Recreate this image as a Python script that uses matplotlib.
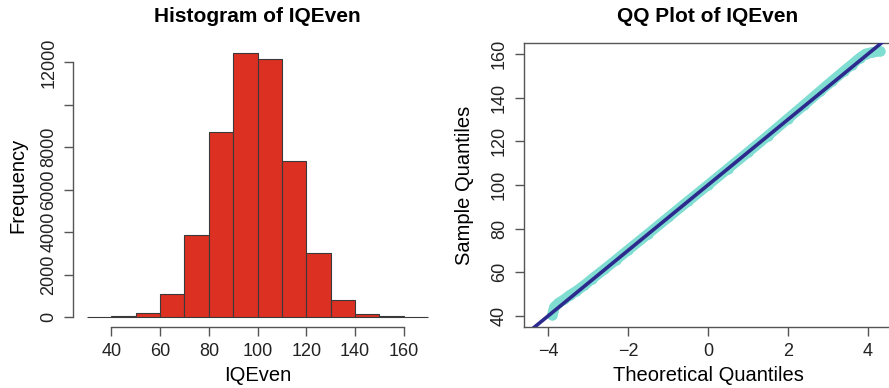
import numpy as np
import matplotlib.pyplot as plt
from matplotlib.ticker import FixedLocator, FixedFormatter

plt.rcParams['font.family'] = ['Liberation Sans', 'DejaVu Sans']

# histogram bins (width 10) and counts
bin_edges = [30, 40, 50, 60, 70, 80, 90, 100, 110, 120, 130, 140, 150, 160, 170]
counts = [8, 30, 207, 1100, 3850, 8715, 12425, 12140, 7360, 3020, 820, 160, 25, 6]

# QQ points: theoretical vs sample quantiles
theo = [-3.90, -3.88, -3.85, -3.75, -3.60, -3.45, -3.30, -3.10, -2.90, -2.60,
        -2.30, -2.00, -1.50, -1.00, -0.50, 0.00, 0.50, 1.00, 1.50, 2.00,
        2.40, 2.80, 3.10, 3.40, 3.60, 3.80, 3.95, 4.10, 4.30]
sample = [40.3, 42.0, 44.0, 45.8, 47.5, 49.6, 51.3, 54.0, 57.0, 61.3,
          65.7, 70.2, 77.6, 85.1, 92.6, 100.0, 107.5, 115.0, 122.6, 130.4,
          136.6, 142.9, 147.6, 152.2, 155.2, 158.3, 160.2, 160.8, 161.4]

# qqline through the quartiles
line_x = [-5, 5]
line_int, line_slope = 100.0, 15.0

RED = '#dc3022'
CYAN = '#80ddd2'
NAVY = '#2d2a8e'
AX_COL = '#555555'

fig = plt.figure(figsize=(8.89, 3.88), dpi=100)

# ---------------- histogram ----------------
ax1 = fig.add_axes([0.0825, 0.156, 0.4144, 0.7335])
ax1.bar(bin_edges[:-1], counts, width=10, align='edge', color=RED,
        edgecolor='#3a3a3a', linewidth=0.8)
ax1.set_xlim(24.4, 175.6)
ax1.set_ylim(-497, 12922)

for s in ['top', 'right']:
    ax1.spines[s].set_visible(False)
ax1.spines['bottom'].set_bounds(40, 160)
ax1.spines['left'].set_bounds(0, 12000)

yt = [0, 2000, 4000, 6000, 8000, 10000, 12000]
ax1.yaxis.set_major_locator(FixedLocator(yt))
ax1.yaxis.set_major_formatter(FixedFormatter(['0', '2000', '4000', '6000', '8000', '', '12000']))
ax1.set_xticks([40, 60, 80, 100, 120, 140, 160])

ax1.set_xlabel('IQEven', fontsize=14.5)
ax1.set_ylabel('Frequency', fontsize=14.5)
ax1.xaxis.set_label_coords(0.5, -0.135)
ax1.yaxis.set_label_coords(-0.126, 0.5)
ax1.text(0.5, 1.074, 'Histogram of IQEven', transform=ax1.transAxes,
         ha='center', va='baseline', fontsize=15, fontweight='bold')

# ---------------- QQ plot ----------------
ax2 = fig.add_axes([0.5894, 0.1564, 0.414, 0.7336])
ax2.plot(theo, sample, color=CYAN, lw=7.5, solid_capstyle='round',
         solid_joinstyle='round', zorder=2)
ax2.plot(theo, sample, 'o', color=CYAN, ms=7.5, mec='none', zorder=2)
ax2.plot(line_x, [line_int + line_slope * v for v in line_x], color=NAVY,
         lw=2.6, zorder=3)
ax2.set_xlim(-4.61, 4.61)
ax2.set_ylim(34.7, 165.3)
ax2.set_xticks([-4, -2, 0, 2, 4])
ax2.set_xticklabels(['\u22124', '\u22122', '0', '2', '4'])
ax2.set_yticks([40, 60, 80, 100, 120, 140, 160])

ax2.set_xlabel('Theoretical Quantiles', fontsize=14.5)
ax2.set_ylabel('Sample Quantiles', fontsize=14.5)
ax2.xaxis.set_label_coords(0.5, -0.135)
ax2.yaxis.set_label_coords(-0.136, 0.5)
ax2.text(0.5, 1.074, 'QQ Plot of IQEven', transform=ax2.transAxes,
         ha='center', va='baseline', fontsize=15, fontweight='bold')

for ax in (ax1, ax2):
    for s in ax.spines.values():
        s.set_color(AX_COL)
        s.set_linewidth(1.0)
    ax.tick_params(length=6.5, width=1.0, color=AX_COL, labelsize=13,
                   pad=5, labelcolor='#222222')
    ax.tick_params(axis='y', labelrotation=90, pad=5)
    for lab in ax.get_yticklabels():
        lab.set_va('center')

fig.savefig('out.png', dpi=100)
